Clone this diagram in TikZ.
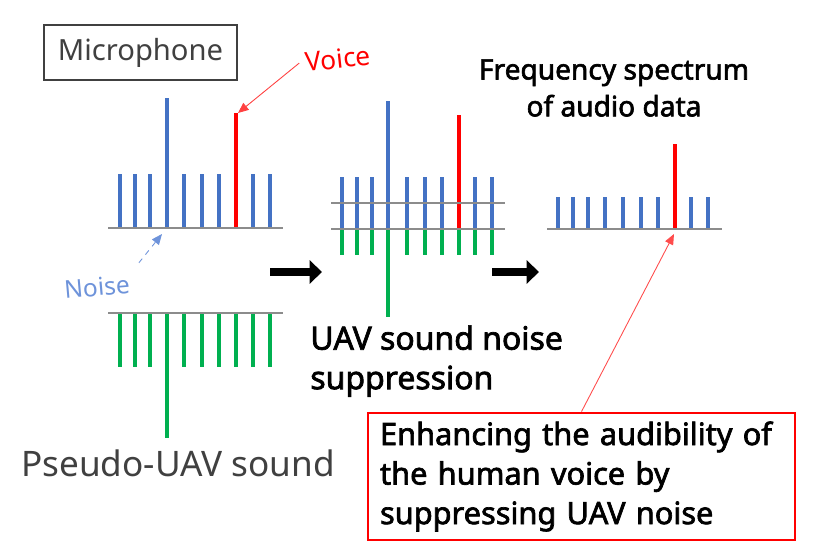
\documentclass[tikz,border=0pt]{standalone}
\usepackage{fontspec}
\setmainfont{Noto Sans}
\newfontfamily\medfont{Noto Sans}[FakeBold=2.2]
\usepackage{tikz}
\usetikzlibrary{arrows.meta}
\definecolor{barblue}{HTML}{4472C4}
\definecolor{barred}{HTML}{FF0000}
\definecolor{bargreen}{HTML}{00B050}
\definecolor{axisgray}{HTML}{8C8C8C}
\definecolor{noiseblue}{HTML}{6E93DA}
\definecolor{softtext}{HTML}{404040}
\tikzset{
  axis/.style={axisgray,line width=0.9pt},
  bar/.style={line width=2.4pt},
  pointer/.style={-{Triangle[length=6pt,width=5pt]},line width=0.5pt},
  bigarrow/.style={-{Triangle[length=7pt,width=13pt]},line width=4.5pt,black},
  heavy/.style={font=\medfont\fontsize{16}{21}\selectfont,text=black}
}

\begin{document}
\begin{tikzpicture}[x=0.02cm,y=-0.02cm]
        \useasboundingbox (0,0) rectangle (840,560);

        % Microphone spectrum
        \foreach \x in {120,135,150,184,202,219,253,270}
            \draw[bar,barblue] (\x,228) -- (\x,174);
        \draw[bar,barblue] (167,228) -- (167,98);
        \draw[bar,barred] (236,228) -- (236,113);
        \draw[axis] (108,228) -- (283,228);
        \coordinate (vtop) at (238,113);
        \coordinate (ntip) at (162,234);

        % Pseudo-UAV spectrum
        \foreach \x in {120,135,150,184,202,219,236,253,270}
            \draw[bar,bargreen] (\x,313) -- (\x,367);
        \draw[bar,bargreen] (167,313) -- (167,438);
        \draw[axis] (108,313) -- (283,313);

        % Suppression
        \foreach \x in {342,357,372,407,425,442,475,492}
            \draw[bar,barblue] (\x,229) -- (\x,177);
        \draw[bar,barblue] (388,229) -- (388,101);
        \draw[bar,barred] (459,229) -- (459,115);
        \foreach \x in {342,357,372,407,425,442,459,475,492}
            \draw[bar,bargreen] (\x,229) -- (\x,255);
        \draw[bar,bargreen] (388,229) -- (388,317);
        \draw[axis] (331,203) -- (505,203);
        \draw[axis] (331,229) -- (505,229);

        % Result
        \foreach \x in {558,573,588,605,623,641,658,691,708}
            \draw[bar,barblue] (\x,229) -- (\x,197);
        \draw[bar,barred] (675,229) -- (675,144);
        \draw[axis] (547,229) -- (722,229);
        \coordinate (rtip) at (674,234);

        % Flow arrows
        \coordinate (a1s) at (270,272);
        \coordinate (a1e) at (322,272);
        \coordinate (a2s) at (492,272);
        \coordinate (a2e) at (539,272);
        \draw[bigarrow] (a1s) -- (a1e);
        \draw[bigarrow] (a2s) -- (a2e);

        % Labels
        \node[draw=softtext,line width=0.7pt,text=softtext,minimum width=3.86cm,minimum height=1.1cm,
            font=\fontsize{16.6}{20}\selectfont] (mic) at (140.5,52.5) {Microphone};
        \node[text=barred,rotate=6,font=\fontsize{15}{18}\selectfont] (voice) at (338,59) {Voice};
        \node[text=noiseblue,rotate=5,font=\fontsize{14}{17}\selectfont] (noise) at (97,287) {Noise};
        \node[text=softtext,font=\fontsize{20}{24}\selectfont] (pseudo) at (178,463) {Pseudo-UAV sound};
        \node[heavy,font=\medfont\fontsize{18.2}{22.5}\selectfont,anchor=north west,align=left,inner sep=0pt]
            (supp) at (310,325) {UAV sound noise\\suppression};
        \node[heavy,align=center,inner sep=0pt] (title) at (614,88)
            {Frequency spectrum\\of audio data};
        \node[heavy,font=\medfont\fontsize{17.5}{22.5}\selectfont,draw=barred,line width=1.6pt,
            align=left,text width=8.06cm,minimum width=8.54cm,minimum height=2.54cm,inner xsep=0.24cm]
            (gain) at (581.5,476.5) {Enhancing the audibility of\\the human voice by\\suppressing UAV noise};

        % Pointers
        \draw[pointer,barred!75] (voice.west) -- (vtop);
        \draw[pointer,noiseblue,dashed,shorten <=4pt] (noise.north east) -- (ntip);
        \draw[pointer,barred!70] (gain.north) -- (rtip);
    \end{tikzpicture}
\end{document}
